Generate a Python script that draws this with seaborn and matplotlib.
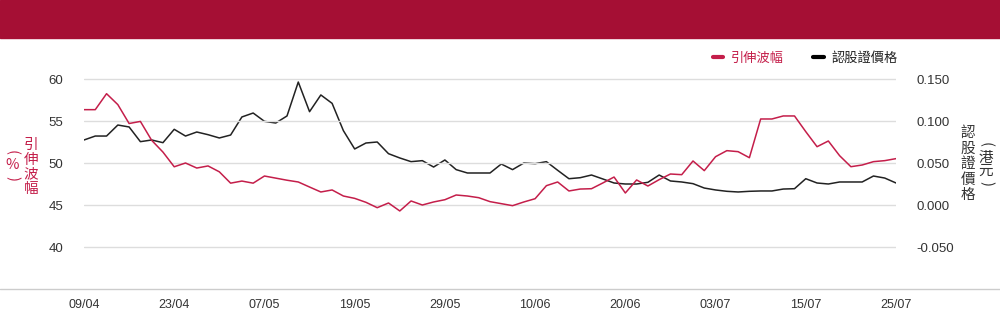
import matplotlib
matplotlib.use("Agg")
import matplotlib.pyplot as plt
from matplotlib.patches import Rectangle
from matplotlib.lines import Line2D
import seaborn as sns
import pandas as pd

dates = ["09/04","10/04","11/04","14/04","15/04","16/04","17/04","22/04","23/04",
         "24/04","25/04","28/04","29/04","30/04","02/05","06/05","07/05",
         "08/05","09/05","12/05","13/05","14/05","15/05","16/05","19/05",
         "20/05","21/05","22/05","23/05","26/05","27/05","28/05","29/05",
         "30/05","02/06","03/06","04/06","05/06","06/06","09/06","10/06",
         "11/06","12/06","13/06","16/06","17/06","18/06","19/06","20/06",
         "23/06","24/06","25/06","26/06","27/06","30/06","02/07","03/07",
         "04/07","07/07","08/07","09/07","10/07","11/07","14/07","15/07",
         "16/07","17/07","18/07","21/07","22/07","23/07","24/07","25/07"]

implied_vol = [56.35, 56.35, 58.25, 56.95, 54.7, 54.95, 52.7, 51.3, 49.55, 50.0,
               49.4, 49.65, 48.95, 47.6, 47.85, 47.6, 48.45, 48.2, 47.95, 47.74,
               47.14, 46.55, 46.79, 46.07, 45.79, 45.32, 44.68, 45.24, 44.29, 45.48,
               45.0, 45.36, 45.63, 46.19, 46.07, 45.87, 45.4, 45.16, 44.92, 45.36,
               45.75, 47.3, 47.74, 46.67, 46.9, 46.94, 47.62, 48.33, 46.43, 47.98,
               47.26, 48.02, 48.69, 48.61, 50.24, 49.09, 50.75, 51.47, 51.35, 50.63,
               55.24, 55.24, 55.6, 55.6, 53.73, 51.94, 52.62, 50.87, 49.56, 49.76,
               50.16, 50.28, 50.52]

warrant_price = [0.0774, 0.0821, 0.0821, 0.0952, 0.0929, 0.0754, 0.0774, 0.0742, 0.0901, 0.0821,
                 0.0869, 0.0837, 0.0798, 0.0833, 0.1048, 0.1095, 0.0996, 0.0976, 0.1060, 0.1464,
                 0.1111, 0.1310, 0.1210, 0.0885, 0.0667, 0.0738, 0.0750, 0.0611, 0.0560, 0.0516,
                 0.0528, 0.0452, 0.0536, 0.0421, 0.0381, 0.0381, 0.0381, 0.0488, 0.0421, 0.0500,
                 0.0492, 0.0516, 0.0413, 0.0313, 0.0325, 0.0357, 0.0310, 0.0262, 0.0250, 0.0250,
                 0.0270, 0.0357, 0.0286, 0.0274, 0.0254, 0.0202, 0.0179, 0.0163, 0.0155, 0.0163,
                 0.0167, 0.0167, 0.0190, 0.0194, 0.0313, 0.0262, 0.0250, 0.0274, 0.0274, 0.0274,
                 0.0345, 0.0321, 0.0262]

left_ticks = [40, 45, 50, 55, 60]
right_ticks = [-0.05, 0.0, 0.05, 0.10, 0.15]
right_tick_labels = ["-0.050", "0.000", "0.050", "0.100", "0.150"]
series_names = ["引伸波幅", "認股證價格"]

RED = "#C41E4A"
BLACK = "#222222"
HEADER = "#A50F34"
GRID = "#dddddd"

sns.set_theme(style="white")
plt.rcParams["font.family"] = ["Liberation Sans", "Noto Sans CJK TC", "DejaVu Sans"]

df = pd.DataFrame({"idx": range(len(dates)), "date": dates,
                   "vol": implied_vol, "price": warrant_price})

fig = plt.figure(figsize=(10, 3.24), dpi=100)
fig.patches.append(Rectangle((0, 1 - 38 / 324), 1, 38 / 324, transform=fig.transFigure,
                             color=HEADER, zorder=0))
fig.add_artist(Line2D([0, 1], [35 / 324, 35 / 324], transform=fig.transFigure,
                      color="#cccccc", lw=1))

ax = fig.add_axes([0.084, 35 / 324, 0.812, 252 / 324])
ax2 = ax.twinx()

for a in (ax, ax2):
    for s in a.spines.values():
        s.set_visible(False)
    a.patch.set_visible(False)

ax.set_ylim(35, 65)
ax2.set_ylim(-0.1, 0.2)
ax.set_xlim(0, len(dates) - 1)

ax.set_yticks(left_ticks)
ax.set_yticklabels([str(t) for t in left_ticks])
ax2.set_yticks(right_ticks)
ax2.set_yticklabels(right_tick_labels)

for t in left_ticks:
    ax.axhline(t, color=GRID, lw=1, zorder=0)

sns.lineplot(data=df, x="idx", y="price", ax=ax2, color=BLACK, lw=1.1, zorder=3)
sns.lineplot(data=df, x="idx", y="vol", ax=ax, color=RED, lw=1.1, zorder=3)
ax.set_zorder(ax2.get_zorder() + 1)

xt = list(range(0, len(dates), 8))
ax.set_xticks(xt)
ax.set_xticklabels([dates[i] for i in xt], fontsize=9, color="#333333",
                   family=["Liberation Sans Narrow", "Liberation Sans", "DejaVu Sans"])
ax.tick_params(axis="x", length=0, pad=7)
ax.tick_params(axis="y", length=0, pad=15, labelsize=9.5, labelcolor="#333333")
ax2.tick_params(axis="y", length=0, pad=14.5, labelsize=9.5, labelcolor="#333333")
ax.set_xlabel("")
ax.set_ylabel("")
ax2.set_ylabel("")

cjk = ["Noto Sans CJK TC", "DejaVu Sans"]


def stacked(x_px, y_center_px, chars, color, step_px, size=10.5):
    n = len(chars)
    y0 = y_center_px - step_px * (n - 1) / 2
    for k, ch in enumerate(chars):
        rot = -90 if ch in "()" else 0
        fig.text(x_px / 1000, 1 - (y0 + k * step_px) / 324, ch, color=color,
                 fontsize=size, family=cjk, ha="center", va="center",
                 rotation=rot, rotation_mode="anchor")


stacked(31, 167, "引伸波幅", RED, 15)
stacked(12, 165, "(%)", RED, 13)
stacked(968, 164, "認股證價格", "#333333", 15.5)
stacked(986, 164, "(港元)", "#333333", 13)

handles = [Line2D([], [], color=RED, lw=3), Line2D([], [], color="black", lw=3)]
leg = fig.legend(handles, series_names, loc="center right",
                 bbox_to_anchor=(0.910, 1 - 58 / 324), ncol=2, frameon=False,
                 handlelength=0.8, handletextpad=0.6, columnspacing=2.2,
                 prop={"family": cjk, "size": 9.5}, labelcolor=[RED, "#222222"])

fig.savefig("out.png", dpi=100)
